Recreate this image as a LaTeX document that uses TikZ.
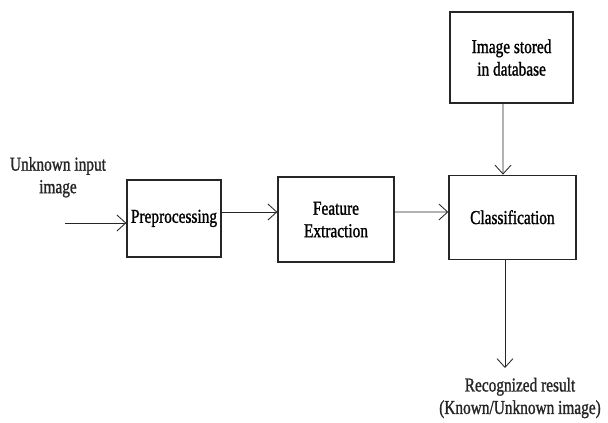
\documentclass[tikz,border=0pt]{standalone}
\usepackage{fontspec}
\setmainfont{Liberation Serif}[FakeStretch=0.78,FakeBold=1.2]
\usetikzlibrary{arrows.meta,positioning}
\definecolor{ink}{HTML}{262626}

\begin{document}
\begin{tikzpicture}[
  font=\fontsize{14}{16}\selectfont,
  flow/.style={-{Straight Barb[length=2.2mm,width=4mm]},line width=0.6pt,draw=ink},
  box/.style={draw=ink,line width=0.9pt,fill=white,align=center,inner sep=2pt},
  caption/.style={align=center,text=ink,inner sep=1pt}
]
\useasboundingbox (0,0) rectangle (15.2,-10.55);

\node[box,minimum width=2.35cm,minimum height=1.925cm] (pre) at (4.35,-5.46)
  {Preprocessing};
\node[box,minimum width=2.9cm,minimum height=2.125cm] (feat) at (8.4,-5.49)
  {Feature\\Extraction};
\node[box,minimum width=3.175cm,minimum height=2.1cm] (cls) at (12.81,-5.43)
  {Classification};
\node[box,minimum width=3.075cm,minimum height=2.275cm] (db) at (12.79,-1.44)
  {Image stored\\in database};

\node[caption] (input) at (1.45,-4.43) {Unknown input\\image};
\node[caption] (result) at (13.0,-9.95)
  {Recognized result\\(Known/Unknown image)};
\coordinate (start) at (1.625,-5.575);
\coordinate (stop) at (12.625,-9.2);

\draw[flow] (start) -- (pre.west |- start);
\draw[flow] ([yshift=0.16cm]pre.east) -- ([yshift=0.19cm]feat.west);
\draw[flow] ([yshift=0.19cm]feat.east) -- ([yshift=0.13cm]cls.west);
\draw[flow] ([xshift=-0.215cm]db.south) -- ([xshift=-0.235cm]cls.north);
\draw[flow] (cls.south -| stop) -- (stop);
\end{tikzpicture}
\end{document}
